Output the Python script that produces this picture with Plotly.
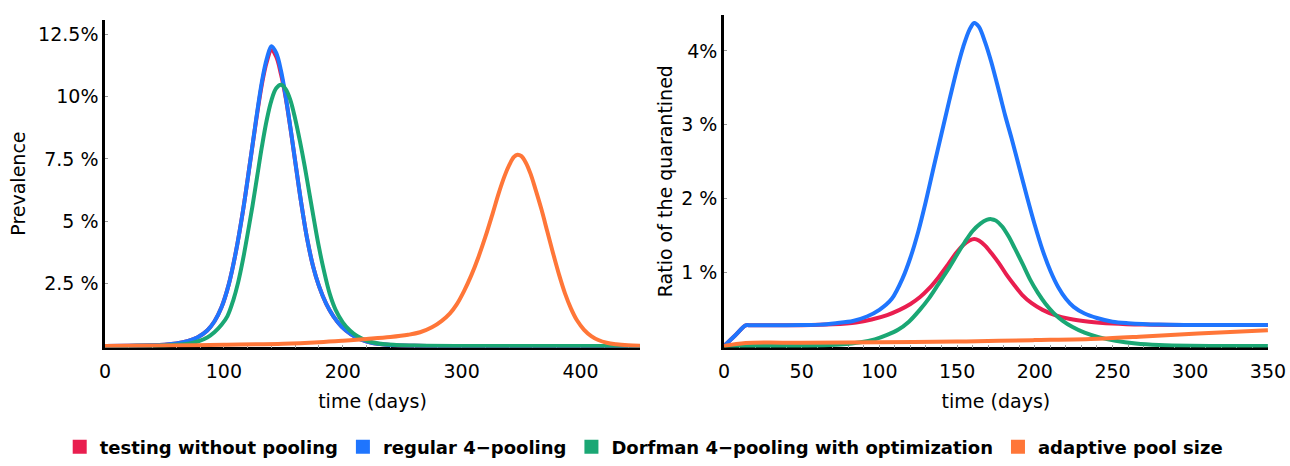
import plotly.graph_objects as go

# ---------------- Prevalence (left panel) ----------------
days_prev = [0, 20, 40, 50, 60, 70, 78, 86, 92, 98, 104, 110, 116, 122, 127, 132, 136, 140,
             144, 148, 152, 156, 160, 165, 170, 175, 180, 186, 192, 199, 207, 215, 225, 240,
             260, 300, 450]
prev_no_pool = [0.002, 0.007, 0.025, 0.05, 0.1, 0.2, 0.35, 0.62, 0.98, 1.55, 2.45, 3.75, 5.4,
                7.35, 9.0, 10.5, 11.38, 11.86, 11.6, 10.9, 9.95, 8.72, 7.4, 5.75, 4.3, 3.2,
                2.4, 1.7, 1.2, 0.78, 0.47, 0.26, 0.12, 0.04, 0.01, 0.0, 0.0]
prev_regular4 = [0.002, 0.007, 0.025, 0.05, 0.1, 0.2, 0.35, 0.62, 0.98, 1.55, 2.45, 3.75, 5.4,
                 7.35, 9.05, 10.6, 11.5, 12.02, 11.75, 11.05, 10.0, 8.75, 7.4, 5.75, 4.3, 3.2,
                 2.4, 1.7, 1.2, 0.78, 0.47, 0.26, 0.12, 0.04, 0.01, 0.0, 0.0]

days_prev_dorf = [0, 20, 40, 50, 60, 70, 78, 86, 92, 98, 103, 108, 112, 116, 120, 124, 128,
                  132, 136, 140, 144, 148, 152, 156, 160, 164, 168, 172, 176, 180, 184, 189,
                  194, 200, 206, 212, 220, 230, 245, 260, 300, 450]
prev_dorfman = [0.001, 0.003, 0.01, 0.02, 0.045, 0.09, 0.18, 0.34, 0.55, 0.85, 1.2, 1.85, 2.55,
                3.45, 4.5, 5.6, 6.8, 8.0, 9.05, 9.85, 10.33, 10.47, 10.3, 9.85, 9.1, 8.2, 7.2,
                6.1, 5.0, 3.95, 3.05, 2.1, 1.45, 0.95, 0.62, 0.4, 0.22, 0.1, 0.04, 0.015, 0.0,
                0.0]

days_prev_adapt = [0, 50, 100, 150, 180, 200, 220, 240, 255, 265, 275, 283, 290, 296, 302, 308,
                   314, 320, 326, 331, 336, 340, 344, 347, 350, 354, 358, 362, 367, 372, 377,
                   382, 387, 392, 397, 403, 409, 415, 422, 430, 440, 450]
prev_adaptive = [0.0, 0.02, 0.05, 0.09, 0.15, 0.21, 0.28, 0.36, 0.45, 0.55, 0.75, 1.0, 1.3,
                 1.68, 2.2, 2.82, 3.55, 4.38, 5.3, 6.1, 6.8, 7.25, 7.58, 7.67, 7.62, 7.35, 6.9,
                 6.3, 5.5, 4.6, 3.7, 2.85, 2.1, 1.5, 1.03, 0.65, 0.4, 0.24, 0.13, 0.07, 0.03,
                 0.01]

# ---------------- Quarantined ratio (right panel) ----------------
days_q_reg = [0, 7, 14, 17, 22, 30, 50, 62, 72, 83, 92, 100, 108, 115, 120, 125, 130, 135, 140,
              145, 150, 154, 158, 161, 164, 168, 172, 177, 181, 185, 190, 195, 200, 205, 210,
              215, 220, 225, 232, 240, 250, 260, 280, 300, 350]
q_regular4 = [0.0, 0.14, 0.28, 0.28, 0.28, 0.28, 0.285, 0.29, 0.31, 0.34, 0.4, 0.49, 0.64, 0.92,
              1.2, 1.55, 1.97, 2.43, 2.88, 3.33, 3.76, 4.06, 4.29, 4.38, 4.33, 4.12, 3.85,
              3.45, 3.12, 2.82, 2.42, 2.02, 1.64, 1.3, 1.02, 0.8, 0.64, 0.53, 0.44, 0.38,
              0.33, 0.31, 0.29, 0.285, 0.285]

days_q_nopool = [0, 7, 14, 17, 22, 30, 50, 70, 85, 95, 105, 113, 120, 126, 132, 138, 144, 149,
                 154, 158, 161, 164, 168, 172, 177, 182, 187, 192, 198, 205, 213, 222, 235,
                 250, 270, 300, 350]
q_no_pool = [0.0, 0.14, 0.28, 0.28, 0.28, 0.28, 0.282, 0.295, 0.32, 0.36, 0.42, 0.49, 0.57,
             0.66, 0.78, 0.93, 1.1, 1.25, 1.37, 1.43, 1.45, 1.43, 1.36, 1.26, 1.12, 0.96, 0.82,
             0.69, 0.58, 0.49, 0.42, 0.37, 0.33, 0.305, 0.29, 0.285, 0.285]

days_q_dorf = [0, 40, 60, 75, 88, 97, 105, 112, 119, 126, 132, 138, 144, 150, 155, 160, 165,
               169, 172, 175, 179, 183, 187, 192, 197, 202, 207, 212, 218, 224, 232, 241, 252,
               265, 280, 300, 350]
q_dorfman = [0.0, 0.0, 0.005, 0.02, 0.05, 0.09, 0.15, 0.22, 0.33, 0.49, 0.65, 0.84, 1.03, 1.24,
             1.41, 1.56, 1.66, 1.71, 1.72, 1.7, 1.62, 1.49, 1.33, 1.12, 0.9, 0.72, 0.57, 0.45,
             0.34, 0.26, 0.18, 0.12, 0.07, 0.035, 0.015, 0.005, 0.0]

days_q_adapt = [0, 14, 50, 100, 150, 177, 200, 241, 270, 305, 350]
q_adaptive = [0.0, 0.04, 0.045, 0.05, 0.06, 0.07, 0.08, 0.1, 0.13, 0.17, 0.215]

series_names = ["testing without pooling", "regular 4\u2212pooling",
                "Dorfman 4\u2212pooling with optimization", "adaptive pool size"]
colors = ["#E91E4F", "#1F75FE", "#1AA774", "#FF7638"]

prev_series = [(days_prev, prev_no_pool), (days_prev, prev_regular4),
               (days_prev_dorf, prev_dorfman), (days_prev_adapt, prev_adaptive)]
quar_series = [(days_q_nopool, q_no_pool), (days_q_reg, q_regular4),
               (days_q_dorf, q_dorfman), (days_q_adapt, q_adaptive)]

left_yticks = [2.5, 5, 7.5, 10, 12.5]
left_ytext = ["2.5 %", "5 %", "7.5 %", "10%", "12.5%"]
left_xticks = [0, 100, 200, 300, 400]
right_yticks = [1, 2, 3, 4]
right_ytext = ["1 %", "2 %", "3 %", "4%"]
right_xticks = [0, 50, 100, 150, 200, 250, 300, 350]

fig = go.Figure()

for (x, y), c in zip(prev_series, colors):
    fig.add_trace(go.Scatter(x=x, y=y, mode="lines", xaxis="x", yaxis="y",
                             line=dict(color=c, width=4, shape="spline", smoothing=1.0),
                             showlegend=False, hoverinfo="skip"))
for (x, y), c in zip(quar_series, colors):
    fig.add_trace(go.Scatter(x=x, y=y, mode="lines", xaxis="x2", yaxis="y2",
                             line=dict(color=c, width=4, shape="spline", smoothing=0.9),
                             showlegend=False, hoverinfo="skip"))
# legend swatches
for name, c in zip(series_names, colors):
    fig.add_trace(go.Scatter(x=[None], y=[None], mode="markers", name=name,
                             marker=dict(symbol="square", size=14, color=c),
                             xaxis="x", yaxis="y"))

tick_font = dict(family="DejaVu Sans", size=19, color="black")
axis_common = dict(showline=True, linecolor="black", linewidth=2.5, showgrid=False,
                   zeroline=False, ticks="inside", ticklen=3, tickcolor="#999999",
                   tickwidth=1, tickfont=tick_font, layer="below traces",
                   automargin=False)

fig.update_layout(
    width=1290, height=466,
    margin=dict(l=0, r=0, t=0, b=0),
    paper_bgcolor="white", plot_bgcolor="white",
    xaxis=dict(domain=[0.0814, 0.4961], range=[0, 450], anchor="y",
               tickvals=left_xticks, ticktext=[str(v) for v in left_xticks],
               ticklabelstandoff=5,
               minor=dict(dtick=20, ticks="inside", ticklen=3, tickcolor="#999999"),
               title=dict(text="time (days)", font=tick_font, standoff=14),
               **axis_common),
    yaxis=dict(domain=[0.2446, 0.9571], range=[-0.06, 13.08], anchor="x",
               tickvals=left_yticks, ticktext=left_ytext,
               title=dict(text="Prevalence", font=tick_font, standoff=8),
               **axis_common),
    xaxis2=dict(domain=[0.5612, 0.9829], range=[0, 350], anchor="y2",
                tickvals=right_xticks, ticktext=[str(v) for v in right_xticks],
                ticklabelstandoff=5,
                minor=dict(dtick=10, ticks="inside", ticklen=3, tickcolor="#999999"),
                title=dict(text="time (days)", font=tick_font, standoff=14),
                **axis_common),
    yaxis2=dict(domain=[0.2446, 0.9678], range=[-0.02, 4.49], anchor="x2",
                tickvals=right_yticks, ticktext=right_ytext,
                title=dict(text="Ratio of the quarantined", font=tick_font, standoff=4),
                **axis_common),
    legend=dict(orientation="h", x=0.499, xanchor="center", y=0.028, yanchor="middle",
                font=dict(family="DejaVu Sans", size=18, color="black", weight="bold"),
                itemwidth=30, tracegroupgap=0, bgcolor="rgba(0,0,0,0)"),
)

fig.write_html("out.html")
